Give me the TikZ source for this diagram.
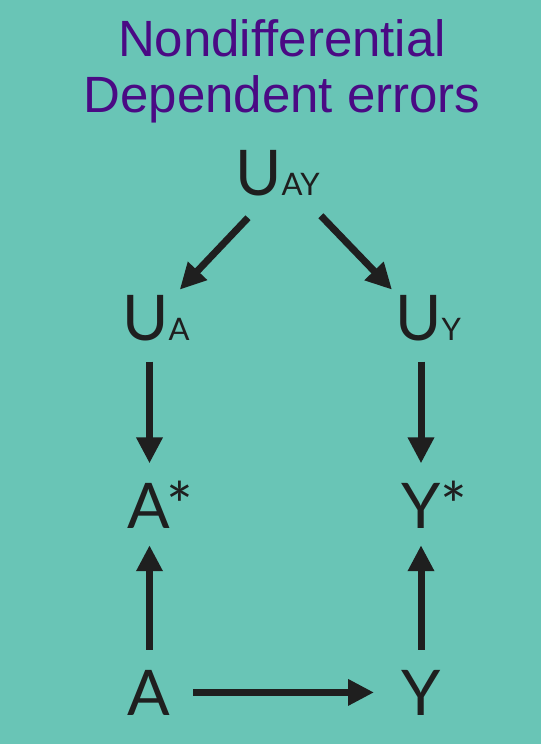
\documentclass[tikz,border=0pt]{standalone}
\usepackage{fontspec}
\setmainfont{Lato}
\newfontfamily\titlefont{Liberation Sans}
\usetikzlibrary{arrows.meta}

\definecolor{bgteal}{HTML}{69C5B6}
\definecolor{titlepurple}{HTML}{4A0A84}
\definecolor{inkgrey}{HTML}{1F1F1F}

\newcommand{\varsub}[1]{{\fontsize{31}{31}\selectfont #1}}

\tikzset{
  titleline/.style={inner sep=0pt,anchor=base,text=titlepurple,font=\titlefont\fontsize{51}{51}\selectfont},
  var/.style={inner sep=0pt,anchor=base west,text=inkgrey,font=\fontsize{63}{63}\selectfont},
  arr/.style={-{Triangle[length=26pt,width=25pt]},line width=7pt,draw=inkgrey},
}

\begin{document}
\begin{tikzpicture}[x=1pt,y=-1pt]
  \fill[bgteal] (0,0) rectangle (541,744);
  \useasboundingbox (0,0) rectangle (541,744);

  % title
  \node[titleline] (title1) at (282,56)  {Nondifferential};
  \node[titleline] (title2) at (282,112) {Dependent errors};

  % variables
  \node[var] (uay)   at (235,195) {U\varsub{AY}};
  \node[var] (ua)    at (122,340) {U\varsub{A}};
  \node[var] (uy)    at (395,340) {U\varsub{Y}};
  \node[var] (astar) at (127,528) {A*};
  \node[var] (ystar) at (401,528) {Y*};
  \node[var] (a)     at (127,715) {A};
  \node[var] (y)     at (401,715) {Y};

  \coordinate (colA) at (149.5,0);
  \coordinate (colY) at (421,0);

  % arrows
  \draw[arr] ([shift={(13,22)}]uay.south west) -- ([shift={(-10,-5)}]ua.north east);
  \draw[arr] ([shift={(1,20)}]uay.south east)  -- ([shift={(-3,-5)}]uy.north west);
  \draw[arr,shorten <=21pt,shorten >=17pt] (ua.south -| colA) -- (astar.north -| colA);
  \draw[arr,shorten <=21pt,shorten >=17pt] (uy.south -| colY) -- (ystar.north -| colY);
  \draw[arr,shorten <=20pt,shorten >=17pt] (a.north -| colA)  -- (astar.south -| colA);
  \draw[arr,shorten <=20pt,shorten >=17pt] (y.north -| colY)  -- (ystar.south -| colY);
  \draw[arr,shorten <=23pt,shorten >=27pt] (a) -- (y);
\end{tikzpicture}
\end{document}
